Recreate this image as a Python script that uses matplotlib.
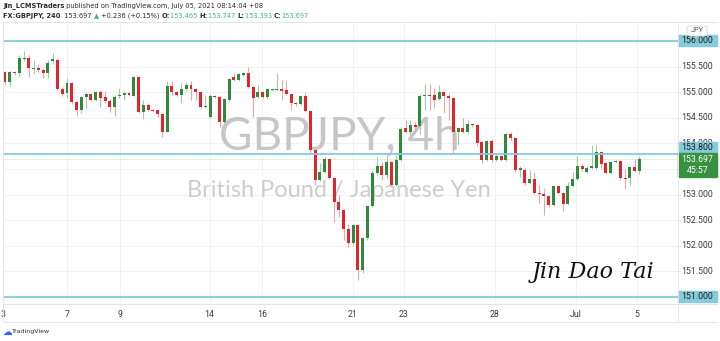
import matplotlib
matplotlib.use("Agg")
import matplotlib.pyplot as plt
import numpy as np
from matplotlib.patches import Rectangle, FancyBboxPatch

# ---------------- data (GBPJPY 4h candles) ----------------
opens = [155.39, 155.19, 155.40, 155.37, 155.64, 155.66, 155.45, 155.47, 155.43, 155.38,
         155.60, 155.63, 155.07, 154.98, 155.17, 154.80, 154.65, 154.90, 154.96, 154.85,
         155.00, 154.90, 154.83, 154.72, 154.92, 154.95, 154.99, 154.93, 155.30, 154.62,
         154.75, 154.66, 154.66, 154.57, 154.23, 155.13, 155.01, 154.95, 155.06, 155.15,
         155.06, 155.01, 154.72, 154.52, 154.93, 154.90, 154.42, 154.85, 155.30, 155.24,
         155.34, 155.37, 155.11, 154.90, 155.01, 154.91, 155.04, 155.05, 155.06, 155.04,
         154.96, 154.79, 154.77, 154.93, 154.64,
         153.87, 153.29, 153.45, 153.69, 153.32, 152.86, 152.70, 152.32, 152.05, 152.41,
         151.53, 152.15, 152.78, 153.43, 153.55, 153.38, 153.64, 153.19, 153.68, 154.30,
         154.23, 154.36, 154.34, 154.93, 154.95, 154.95, 154.86, 155.01, 154.92, 154.88,
         154.23, 154.30, 154.23, 154.38, 154.36, 154.03, 153.68, 154.05, 153.68, 153.76,
         153.68, 154.18, 154.10, 153.49, 153.49, 153.22, 153.30, 153.04, 153.01, 152.97,
         152.80, 153.17, 153.04, 152.82, 153.16, 153.30, 153.56, 153.45, 153.52, 153.51,
         153.84, 153.61, 153.43, 153.64, 153.66, 153.33, 153.32, 153.53, 153.465]
highs = [155.42, 155.42, 155.42, 155.73, 155.81, 155.72, 155.62, 155.55, 155.47, 155.63,
         155.76, 155.66, 155.10, 155.27, 155.19, 154.82, 154.93, 155.00, 154.99, 155.02,
         155.05, 155.02, 154.86, 154.95, 155.08, 155.00, 155.00, 155.31, 155.31, 154.85,
         154.78, 154.68, 154.68, 154.58, 155.21, 155.21, 155.03, 155.17, 155.19, 155.21,
         155.08, 155.03, 154.95, 154.96, 154.95, 154.92, 154.88, 155.28, 155.37, 155.38,
         155.40, 155.49, 155.13, 155.14, 155.03, 155.07, 155.07, 155.38, 155.24, 155.21,
         154.98, 154.81, 154.95, 155.01, 154.66,
         153.90, 153.62, 153.74, 153.71, 153.34, 153.00, 152.72, 152.42, 152.43, 152.43,
         152.17, 152.80, 153.48, 153.74, 153.64, 153.77, 153.66, 153.78, 154.32, 154.46,
         154.45, 154.42, 154.96, 155.16, 155.16, 155.08, 155.14, 155.03, 154.98, 154.90,
         154.33, 154.49, 154.46, 154.40, 154.38, 154.05, 154.07, 154.08, 153.80, 153.78,
         154.23, 154.22, 154.12, 153.56, 153.52, 153.48, 153.44, 153.19, 153.13, 152.99,
         153.19, 153.19, 153.06, 153.25, 153.45, 153.75, 153.60, 153.56, 153.97, 153.97,
         153.86, 153.63, 153.66, 153.68, 153.68, 153.50, 153.55, 153.70, 153.747]
lows = [155.16, 155.12, 155.34, 155.30, 155.61, 155.30, 155.35, 155.40, 155.28, 155.27,
        155.55, 155.04, 154.92, 154.88, 154.76, 154.54, 154.60, 154.69, 154.82, 154.83,
        154.72, 154.78, 154.62, 154.54, 154.89, 154.85, 154.92, 154.92, 154.60, 154.48,
        154.64, 154.62, 154.52, 154.13, 154.22, 154.95, 154.93, 154.78, 155.04, 154.85,
        154.85, 154.70, 154.69, 154.50, 154.88, 154.33, 154.40, 154.83, 155.22, 155.22,
        155.32, 155.08, 154.52, 154.88, 154.89, 154.89, 155.02, 155.03, 154.85, 154.95,
        154.65, 154.74, 154.75, 154.62, 153.80,
        153.19, 153.27, 153.43, 153.30, 152.47, 152.57, 152.11, 151.98, 152.03, 151.33,
        151.46, 152.12, 152.76, 153.38, 153.29, 153.33, 153.17, 153.17, 153.66, 154.20,
        154.16, 154.21, 154.18, 154.65, 154.65, 154.69, 154.84, 154.59, 154.46, 153.81,
        153.97, 154.20, 154.21, 154.33, 153.95, 153.62, 153.66, 153.64, 153.65, 153.66,
        153.66, 154.05, 153.45, 153.35, 153.19, 153.20, 153.02, 152.84, 152.60, 152.75,
        152.78, 153.02, 152.67, 152.80, 153.14, 153.28, 153.46, 153.43, 153.50, 153.49,
        153.51, 153.41, 153.41, 153.62, 153.29, 153.10, 153.19, 153.44, 153.393]
closes = [155.19, 155.40, 155.37, 155.66, 155.67, 155.47, 155.48, 155.43, 155.38, 155.58,
          155.64, 155.06, 154.96, 155.17, 154.80, 154.65, 154.90, 154.96, 154.85, 155.00,
          154.88, 154.83, 154.72, 154.91, 154.95, 154.98, 154.95, 155.30, 154.62, 154.75,
          154.65, 154.64, 154.57, 154.23, 155.13, 155.01, 154.95, 155.06, 155.15, 155.06,
          155.01, 154.72, 154.74, 154.93, 154.90, 154.42, 154.86, 155.26, 155.24, 155.35,
          155.38, 155.11, 154.88, 155.01, 154.91, 155.06, 155.06, 155.06, 155.03, 154.96,
          154.78, 154.77, 154.93, 154.64, 153.87,
          153.29, 153.45, 153.69, 153.32, 152.86, 152.70, 152.32, 152.05, 152.41, 151.53,
          152.15, 152.78, 153.43, 153.55, 153.38, 153.64, 153.19, 153.68, 154.28, 154.23,
          154.36, 154.33, 154.93, 154.95, 154.93, 154.85, 155.01, 154.92, 154.88, 154.23,
          154.30, 154.23, 154.38, 154.35, 154.01, 153.68, 154.05, 153.68, 153.75, 153.67,
          154.18, 154.10, 153.49, 153.51, 153.22, 153.30, 153.04, 153.01, 152.97, 152.80,
          153.17, 153.04, 152.82, 153.16, 153.30, 153.56, 153.50, 153.52, 153.55, 153.84,
          153.60, 153.43, 153.63, 153.66, 153.32, 153.31, 153.53, 153.47, 153.697]

grid_prices = [151.0, 151.5, 152.0, 152.5, 153.0, 153.5, 154.0, 154.5, 155.0, 155.5, 156.0]
price_ticks = [151.5, 152.0, 152.5, 153.0, 154.0, 154.5, 155.0, 155.5]
price_labels = ["151.500", "152.000", "152.500", "153.000", "154.000",
                "154.500", "155.000", "155.500"]
level_lines = [156.0, 153.8, 151.0]
level_labels = ["156.000", "153.800", "151.000"]
last_price = 153.697
last_label = "153.697"
countdown = "45:57"
date_pos = [-0.4, 13.0, 24.1, 42.9, 53.9, 72.9, 83.6, 102.7, 119.7, 132.5]
date_labels = ["3", "7", "9", "14", "16", "21", "23", "28", "Jul", "5"]

# ---------------- figure ----------------
W, H = 720, 341
fig = plt.figure(figsize=(W / 100, H / 100), dpi=100)
fig.patch.set_facecolor("white")


def box(l, t, r, b):
    return [l / W, 1 - b / H, (r - l) / W, (b - t) / H]


PX_PER_UNIT = 51.2
ymin = 156.0 - (304 - 41) / PX_PER_UNIT
ymax = 156.0 + (41 - 22) / PX_PER_UNIT

ax = fig.add_axes(box(3, 22, 678, 304))
ax.set_xlim(-0.42, 141.1)
ax.set_ylim(ymin, ymax)
for s in ax.spines.values():
    s.set_visible(False)
ax.set_yticks([])
ax.set_xticks(date_pos)
ax.set_xticklabels(date_labels, fontsize=6.3, color="#3b3b3b", family="Roboto")
ax.tick_params(axis="x", length=0, pad=4.5)

grid_c = "#f1f2f5"
for p in grid_prices:
    ax.axhline(p, color=grid_c, lw=0.7, zorder=0)
for d in date_pos:
    ax.axvline(d, color=grid_c, lw=0.7, zorder=0)

# watermark
ax.text(0.499, 0.592, "GBPJPY, 4h", transform=ax.transAxes, ha="center", va="center",
        fontsize=33, color="#c6c6c6", family="Lato", zorder=1)
ax.text(0.497, 0.404, "British Pound / Japanese Yen", transform=ax.transAxes,
        ha="center", va="center", fontsize=17, color="#cdcdcd", family="Lato", zorder=1)

# candles
o = np.array(opens); h = np.array(highs); l = np.array(lows); c = np.array(closes)
x = np.arange(len(o))
up = c >= o
body_c = np.where(up, "#2e8b3b", "#e0262d")
wick_c = np.where(up, "#9ccf9f", "#f2a3a6")
ax.vlines(x, l, h, colors=wick_c, lw=0.8, zorder=3)
bh = np.maximum(np.abs(c - o), 0.02)
ax.bar(x, bh, bottom=np.minimum(o, c), width=0.62, color=body_c, linewidth=0, zorder=4)

# level lines
line_c = "#84ccdb"
for lv in level_lines:
    ax.axhline(lv, color=line_c, lw=1.3, zorder=5)
ax.axhline(last_price, color="#b9dfbb", lw=0.6, ls=(0, (1, 1)), zorder=2)

# --- price scale ---
axp = fig.add_axes(box(678, 22, 717, 304))
axp.set_xlim(0, 1)
axp.set_ylim(ymin, ymax)
axp.axis("off")
for p, lab in zip(price_ticks, price_labels):
    axp.text(0.5, p, lab, ha="center", va="center", fontsize=6.3, color="#3b3b3b",
             family="Roboto", zorder=1)
    axp.plot([-0.02, 0.06], [p, p], color="#d8dbe2", lw=0.6, clip_on=False)

bh_px = 11 / PX_PER_UNIT
offsets_px = [0, 6.5, 0]
for lv, lab, off in zip(level_lines, level_labels, offsets_px):
    cy = lv + off / PX_PER_UNIT
    axp.add_patch(Rectangle((0, cy - bh_px / 2), 1, bh_px, color=line_c, zorder=5,
                            clip_on=False))
    axp.text(0.5, cy, lab, ha="center", va="center", fontsize=6.3, color="#1e1e1e",
             family="Roboto", zorder=6, clip_on=False)
    axp.plot([-0.02, 0.05], [lv, lv], color=line_c, lw=1.3, clip_on=False, zorder=5)

# last price label (pushed below the 153.800 label)
top = level_lines[1] + offsets_px[1] / PX_PER_UNIT - bh_px / 2
gh = 24 / PX_PER_UNIT
axp.add_patch(Rectangle((0, top - gh), 1, gh, color="#37913f", zorder=5, clip_on=False))
axp.text(0.5, top - gh * 0.27, last_label, ha="center", va="center", fontsize=6.3,
         color="white", family="Roboto", zorder=6)
axp.text(0.5, top - gh * 0.73, countdown, ha="center", va="center", fontsize=6.3,
         color="white", family="Roboto", zorder=6)

# JPY tag
fig.patches.append(FancyBboxPatch((687 / W, 1 - 36 / H), 20 / W, 10 / H,
                                  boxstyle="round,pad=0,rounding_size=0.005",
                                  transform=fig.transFigure, fc="white", ec="#d5d8de",
                                  lw=0.6))
fig.text(697 / W, 1 - 31 / H, "JPY", ha="center", va="center", fontsize=5.3,
         color="#4a4a4a", family="Roboto")

# pane borders
bc = "#e3e5ea"
fig.add_artist(plt.Line2D([3 / W, 717 / W], [1 - 22 / H] * 2, color=bc, lw=0.7))
fig.add_artist(plt.Line2D([3 / W, 717 / W], [1 - 304 / H] * 2, color=bc, lw=0.7))
fig.add_artist(plt.Line2D([3 / W, 717 / W], [1 - 322 / H] * 2, color=bc, lw=0.7))
fig.add_artist(plt.Line2D([678 / W] * 2, [1 - 22 / H, 1 - 322 / H], color=bc, lw=0.7))
fig.add_artist(plt.Line2D([3 / W] * 2, [1 - 22 / H, 1 - 322 / H], color=bc, lw=0.7))

# ---------------- header ----------------
renderer = fig.canvas.get_renderer()


def run_text(x0, y, pieces, size):
    xpos = x0
    for txt, col, wt in pieces:
        t = fig.text(xpos / W, 1 - y / H, txt, ha="left", va="center", fontsize=size,
                     color=col, fontweight=wt, family="DejaVu Sans")
        bb = t.get_window_extent(renderer=renderer)
        xpos += bb.width


teal = "#3fb3a0"
dark = "#2a2a2a"
run_text(3, 6, [("Jin_LCMSTraders", dark, "bold"),
                (" published on TradingView.com, July 05, 2021 08:14:04 +08", dark, "normal")],
         4.8)
run_text(3, 16, [("FX:GBPJPY, 240", dark, "bold"), ("  153.697 ", dark, "normal"),
                 ("▲", teal, "normal"), (" +0.236 (+0.15%) ", dark, "normal"),
                 ("O:", dark, "bold"), ("153.465 ", teal, "normal"),
                 ("H:", dark, "bold"), ("153.747 ", teal, "normal"),
                 ("L:", dark, "bold"), ("153.393 ", teal, "normal"),
                 ("C:", dark, "bold"), ("153.697", teal, "normal")], 4.8)

# signature
fig.text(593 / W, 1 - 272 / H, "Jin Dao Tai", ha="center", va="center", fontsize=16,
         style="italic", family="DejaVu Serif", color="#111111")

# TradingView footer
fig.text(7 / W, 1 - 332 / H, "☁", ha="center", va="center", fontsize=7,
         color="#2962ff", family="DejaVu Sans")
fig.text(12 / W, 1 - 332 / H, "TradingView", ha="left", va="center", fontsize=4.5,
         color="#333333", family="DejaVu Sans")

fig.savefig("out.png", dpi=100, facecolor="white")
